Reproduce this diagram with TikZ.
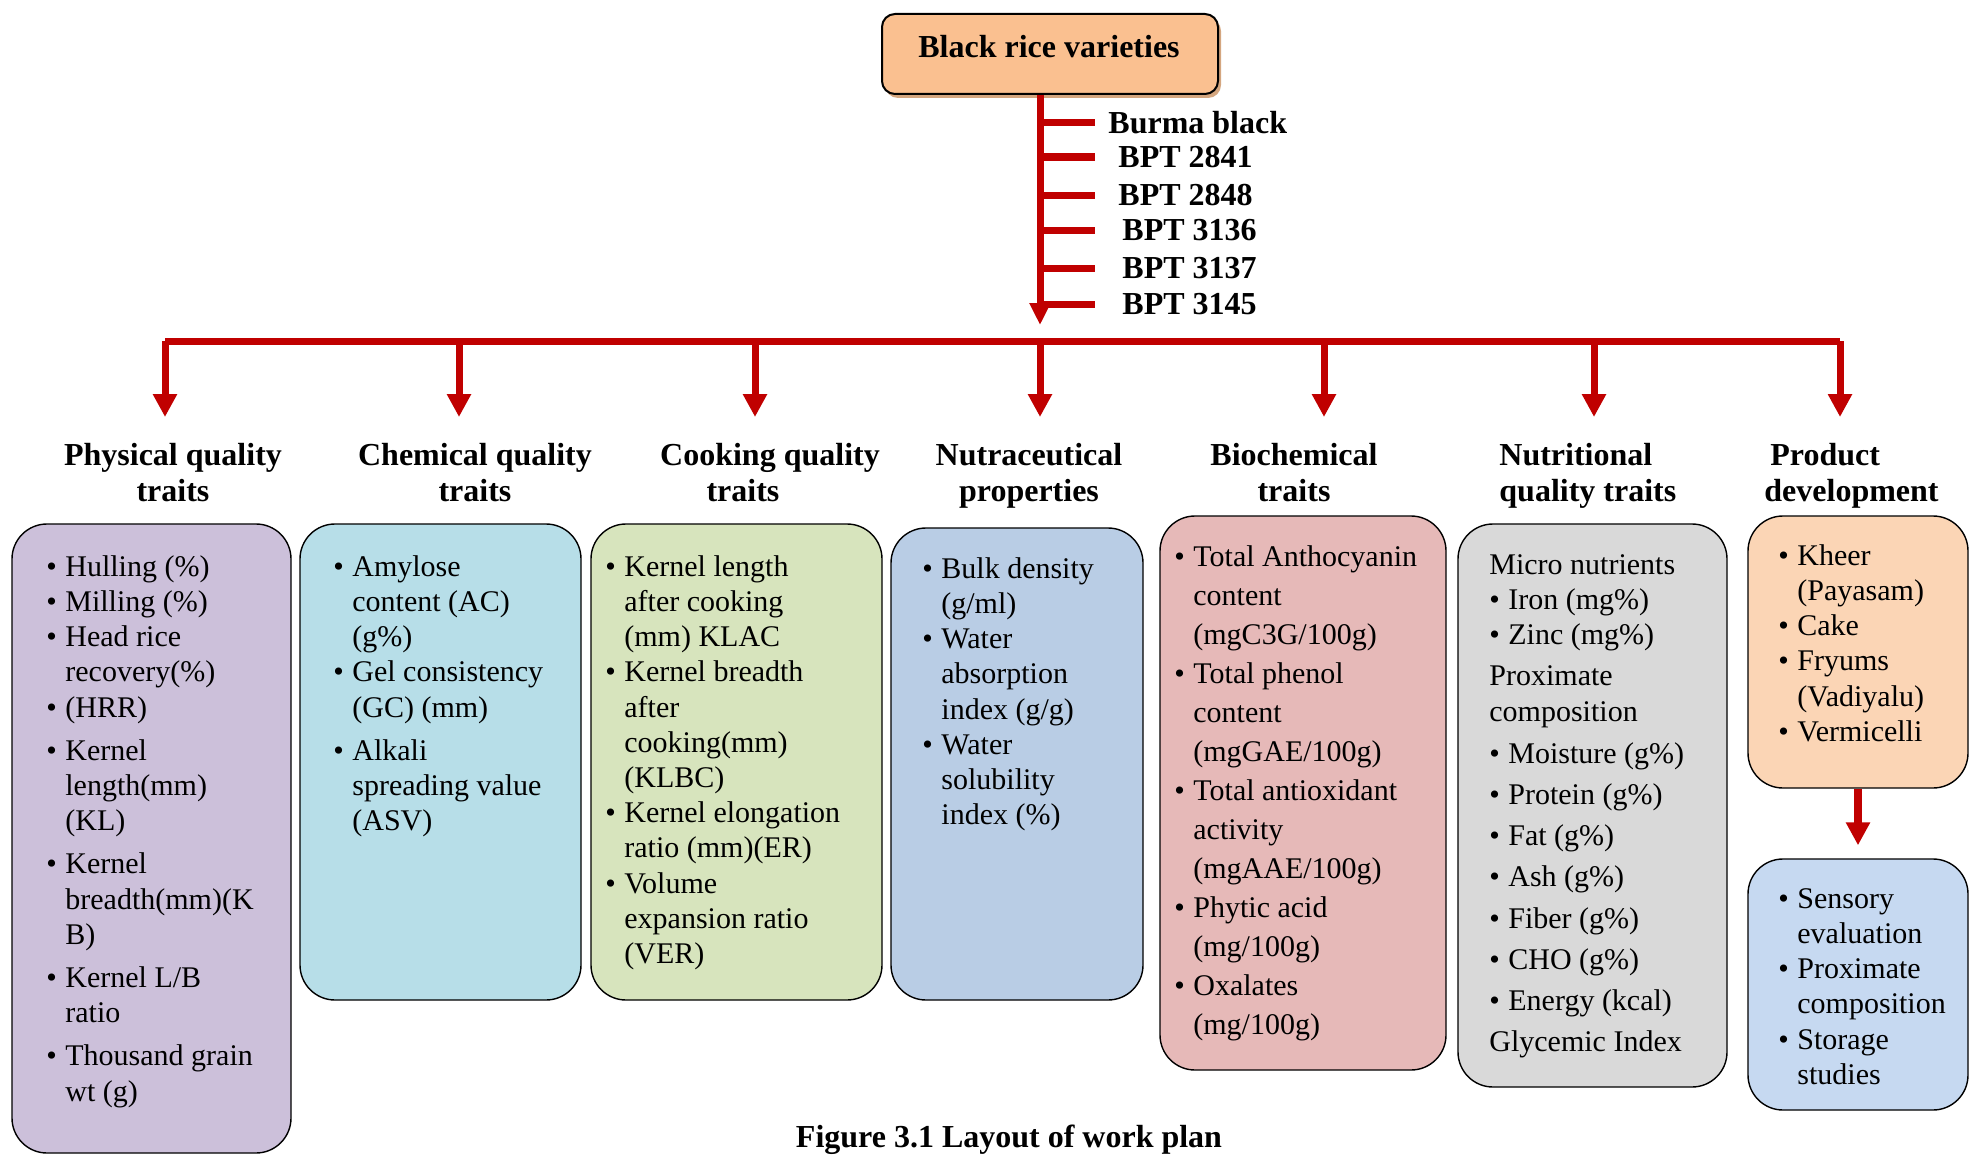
\documentclass[tikz,border=0pt]{standalone}
\usepackage{fontspec}
\setmainfont{Liberation Serif}
\usetikzlibrary{arrows.meta,fit,shadows}

\definecolor{riceRed}{HTML}{C00000}
\definecolor{topFill}{HTML}{FAC090}
\definecolor{topShade}{HTML}{D4A67F}
\definecolor{physFill}{HTML}{CCC0DA}
\definecolor{chemFill}{HTML}{B7DEE8}
\definecolor{cookFill}{HTML}{D7E4BD}
\definecolor{nutraFill}{HTML}{B9CDE5}
\definecolor{biocFill}{HTML}{E6B9B8}
\definecolor{nutriFill}{HTML}{D9D9D9}
\definecolor{prodFill}{HTML}{FBD5B5}
\definecolor{evalFill}{HTML}{C6D9F1}

\tikzset{
  panel/.style={draw=black, line width=0.7pt, rounded corners=17.5pt, inner sep=0pt},
  items/.style={anchor=north west, align=left, inner sep=0pt, font=\fontsize{15}{17.6}\selectfont},
  heading/.style={anchor=north, align=center, inner sep=0pt, font=\fontsize{16}{18}\selectfont\bfseries},
  variety/.style={anchor=west, inner sep=0pt, font=\fontsize{16}{18}\selectfont\bfseries},
  redline/.style={draw=riceRed, line width=3.5pt, line cap=butt},
  redarrow/.style={redline, -{Triangle[width=11.5pt,length=11.5pt]}},
}
\newcommand{\bitem}{\makebox[9.5pt][l]{\textbullet}}
\newcommand{\bcont}{\hspace*{9.5pt}}

\begin{document}
\begin{tikzpicture}[x=0.5pt,y=-0.5pt]
  \useasboundingbox (0,0) rectangle (1970,1156);

  % top box
  \node[panel, fill=topFill, line width=1pt, rounded corners=6.5pt,
        drop shadow={shadow xshift=1.5pt, shadow yshift=-2pt, fill=topShade, opacity=1},
        fit={(882,14) (1218,94)}] (top) {};
  \node[variety, anchor=center] (topT) at (1049,47) {Black rice varieties};

  % varieties
  \coordinate (trunk) at (1040,325);
  \draw[redline, -{Triangle[width=10pt,length=11pt]}] (trunk |- top.south) -- (trunk);
  \foreach \vname/\vx/\vy [count=\i] in {Burma black/1108/123, BPT 2841/1118/157,
      BPT 2848/1118/195, BPT 3136/1122/230, BPT 3137/1122/268, BPT 3145/1122/304} {
    \node[variety] (v\i) at (\vx,\vy) {\vname};
    \coordinate (k\i) at (1095,\vy);
    \draw[redline] (trunk |- k\i) -- (k\i);
  }

  % bus and branches
  \coordinate (busL) at (165,341);
  \coordinate (busR) at (1840,341);
  \draw[redline] (busL) -- (busR);
  \foreach \bx [count=\i] in {165,459,755,1040,1324,1594,1840} {
    \coordinate (b\i) at (\bx,341);
    \coordinate (e\i) at (\bx,417);
    \draw[redarrow] (b\i) -- (e\i);
  }

  % headings
  \node[heading] (hPhys) at (173,443) {Physical quality\\traits};
  \node[heading] (hChem) at (475,443) {Chemical quality\\traits};
  \node[heading] (hCook) at (770,443) {Cooking quality\\traits\hspace*{27pt}};
  \node[heading] (hNutra) at (1029,443) {Nutraceutical\\properties};
  \node[heading] (hBioc) at (1294,443) {Biochemical\\traits};
  \node[heading, anchor=north west, align=left] (hNutri) at (1499,443) {Nutritional\\quality traits};
  \node[heading, anchor=north west, align=left] (hProd) at (1764,443) {\hspace*{3pt}Product\\development};

  % boxes
  \begin{scope}[every node/.style=panel]
    \node[fill=physFill, fit={(12,524) (291,1153)}] (phys) {};
    \node[fill=chemFill, fit={(300,524) (581,1000)}] (chem) {};
    \node[fill=cookFill, fit={(591,524) (882,1000)}] (cook) {};
    \node[fill=nutraFill, fit={(891,528) (1143,1000)}] (nutra) {};
    \node[fill=biocFill, fit={(1160,516) (1446,1070)}] (bioc) {};
    \node[fill=nutriFill, fit={(1458,524) (1727,1087)}] (nutri) {};
    \node[fill=prodFill, fit={(1748,516) (1968,788)}] (prod) {};
    \node[fill=evalFill, fit={(1748,859) (1968,1110)}] (eval) {};
  \end{scope}
  \draw[redline, line width=4pt, -{Triangle[width=11.5pt,length=11.5pt]}, shorten >=6.5pt]
    (prod.south) -- (eval.north);

  % box texts
  \node[items] (physL) at (46,555) {\bitem Hulling (\%)\\ \bitem Milling (\%)\\
    \bitem Head rice\\ \bcont recovery(\%)\\ \bitem (HRR)\\[4pt]
    \bitem Kernel\\ \bcont length(mm)\\ \bcont (KL)\\[4pt]
    \bitem Kernel\\ \bcont breadth(mm)(K\\ \bcont B)\\[4pt]
    \bitem Kernel L/B\\ \bcont ratio\\[4pt]
    \bitem Thousand grain\\ \bcont wt (g)};
  \node[items] (chemL) at (333,555) {\bitem Amylose\\ \bcont content (AC)\\ \bcont (g\%)\\
    \bitem Gel consistency\\ \bcont (GC) (mm)\\[4pt]
    \bitem Alkali\\ \bcont spreading value\\ \bcont (ASV)};
  \node[items] (cookL) at (605,555) {\bitem Kernel length\\ \bcont after cooking\\ \bcont (mm) KLAC\\
    \bitem Kernel breadth\\ \bcont after\\ \bcont cooking(mm)\\ \bcont (KLBC)\\
    \bitem Kernel elongation\\ \bcont ratio (mm)(ER)\\
    \bitem Volume\\ \bcont expansion ratio\\ \bcont (VER)};
  \node[items] (nutraL) at (922,557) {\bitem Bulk density\\ \bcont (g/ml)\\
    \bitem Water\\ \bcont absorption\\ \bcont index (g/g)\\
    \bitem Water\\ \bcont solubility\\ \bcont index (\%)};
  \node[items, font=\fontsize{15}{19.5}\selectfont] (biocL) at (1174,545) {\bitem Total Anthocyanin\\
    \bcont content\\ \bcont (mgC3G/100g)\\
    \bitem Total phenol\\ \bcont content\\ \bcont (mgGAE/100g)\\
    \bitem Total antioxidant\\ \bcont activity\\ \bcont (mgAAE/100g)\\
    \bitem Phytic acid\\ \bcont (mg/100g)\\
    \bitem Oxalates\\ \bcont (mg/100g)};
  \node[items] (nutriL) at (1489,554) {Micro nutrients\\ \bitem Iron (mg\%)\\ \bitem Zinc (mg\%)\\[3pt]
    Proximate\\ composition\\[3.5pt]
    \bitem Moisture (g\%)\\[3pt] \bitem Protein (g\%)\\[3pt] \bitem Fat (g\%)\\[3pt]
    \bitem Ash (g\%)\\[3pt] \bitem Fiber (g\%)\\[3pt] \bitem CHO (g\%)\\[3pt]
    \bitem Energy (kcal)\\[3pt] Glycemic Index};
  \node[items] (prodL) at (1778,544) {\bitem Kheer\\ \bcont (Payasam)\\ \bitem Cake\\
    \bitem Fryums\\ \bcont (Vadiyalu)\\ \bitem Vermicelli};
  \node[items] (evalL) at (1778,888) {\bitem Sensory\\ \bcont evaluation\\
    \bitem Proximate\\ \bcont composition\\ \bitem Storage\\ \bcont studies};

  % caption
  \node[variety, anchor=center] (caption) at (1009,1140) {Figure 3.1 Layout of work plan};
\end{tikzpicture}
\end{document}
